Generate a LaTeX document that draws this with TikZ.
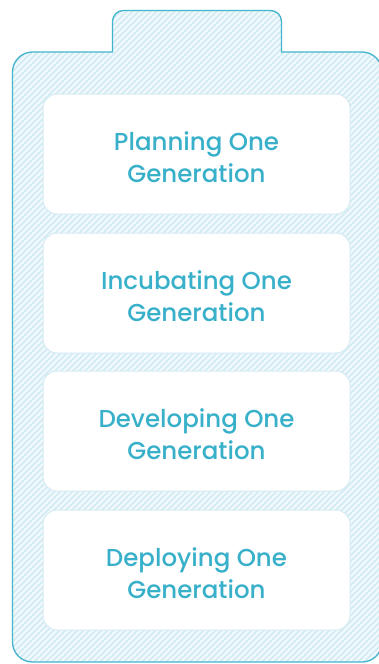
\documentclass[tikz,border=0pt]{standalone}
\usepackage{fontspec}
\setmainfont{Poppins Medium}
\definecolor{tealline}{HTML}{42B4CE}
\definecolor{tealtext}{HTML}{38B0CA}
\definecolor{hatchbg}{HTML}{F1F9FC}
\definecolor{hatchln}{HTML}{D2EBF3}
\definecolor{boxedge}{HTML}{D6EBF3}
\tikzset{
  stagebox/.style={draw=boxedge, line width=1pt, fill=white, rounded corners=14pt,
    minimum width=307pt, minimum height=120pt, align=center, text height=57pt,
    text=tealtext, font=\fontsize{24.5}{31.5}\selectfont},
}
\begin{document}
\begin{tikzpicture}[x=1pt,y=-1pt]
  \useasboundingbox (0,0) rectangle (379,664);
  \clip (0,0) rectangle (379,664);

  % 电池外形
  \def\battery{(12.5,360) [rounded corners=20pt] -- (12.5,52) [sharp corners] -- (112.5,52)
    [rounded corners=11pt] -- (112.5,10.5) -- (281.5,10.5) -- (281.5,52)
    [sharp corners] -- (281.5,52) [rounded corners=20pt] -- (382,52) -- (382,662)
    -- (12.5,662) -- (12.5,360)}
  \fill[hatchbg] \battery;
  \begin{scope}
    \clip \battery;
    \foreach \k in {-300,-294,...,800}
      \draw[hatchln, line width=1.6pt] (\k-400,664) -- (\k+264,0);
  \end{scope}
  \draw[tealline, line width=1.3pt] \battery;

  % 四个阶段
  \node[stagebox] (plan) at (196.5,154) {Planning One\\Generation};
  \node[stagebox] (incubate) at (196.5,293) {Incubating One\\Generation};
  \node[stagebox] (develop) at (196.5,431) {Developing One\\Generation};
  \node[stagebox] (deploy) at (196.5,570) {Deploying One\\Generation};
\end{tikzpicture}
\end{document}
